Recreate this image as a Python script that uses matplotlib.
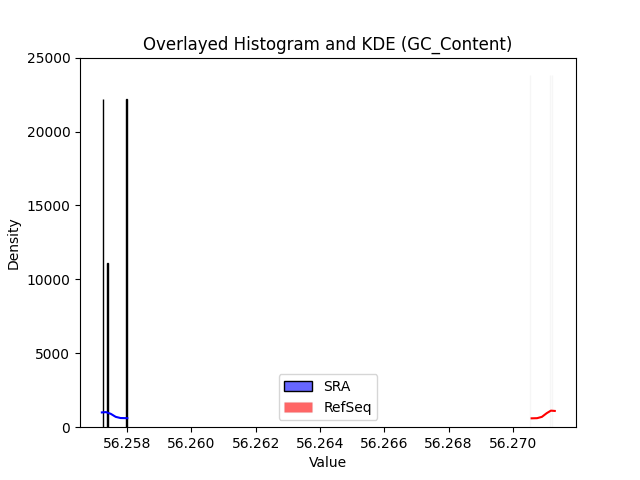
import matplotlib
matplotlib.use('Agg')
from matplotlib import pyplot as plt

# histogram bins (left edge) and density heights
sra_bins = [56.25725, 56.25737, 56.25798]
sra_density = [22200, 11100, 22200]
refseq_bins = [56.27054, 56.27114, 56.27122]
refseq_density = [23800, 23800, 23800]
sra_widths = [1e-6, 2.5e-5, 2.5e-5]
refseq_width = 2e-6

# kde curves
sra_kde_x = [56.25722, 56.25735, 56.25750, 56.25765, 56.25780, 56.25801]
sra_kde_y = [1000, 1020, 900, 700, 620, 610]
refseq_kde_x = [56.27058, 56.27075, 56.27090, 56.27105, 56.27118, 56.27130]
refseq_kde_y = [600, 610, 700, 950, 1120, 1100]

fig, ax = plt.subplots(figsize=(6.4, 4.8), dpi=100)

ax.bar(sra_bins, sra_density, width=sra_widths, align='edge',
       facecolor=(0, 0, 1, 0.6), edgecolor='black', linewidth=1, label='SRA')
ax.bar(refseq_bins, refseq_density, width=refseq_width, align='edge',
       facecolor=(1, 0, 0, 0.6), edgecolor=(0.5, 0.5, 0.5, 0.07),
       linewidth=1, label='RefSeq')
ax.plot(sra_kde_x, sra_kde_y, color='blue')
ax.plot(refseq_kde_x, refseq_kde_y, color='red')

ax.set_xlim(56.25654, 56.27196)
ax.set_ylim(0, 25000)
ax.ticklabel_format(axis='x', useOffset=False)
ax.set_xticks([56.258, 56.260, 56.262, 56.264, 56.266, 56.268, 56.270])
ax.set_title('Overlayed Histogram and KDE (GC_Content)')
ax.set_xlabel('Value')
ax.set_ylabel('Density')
ax.legend(loc='lower center')
plt.savefig('out.png')
